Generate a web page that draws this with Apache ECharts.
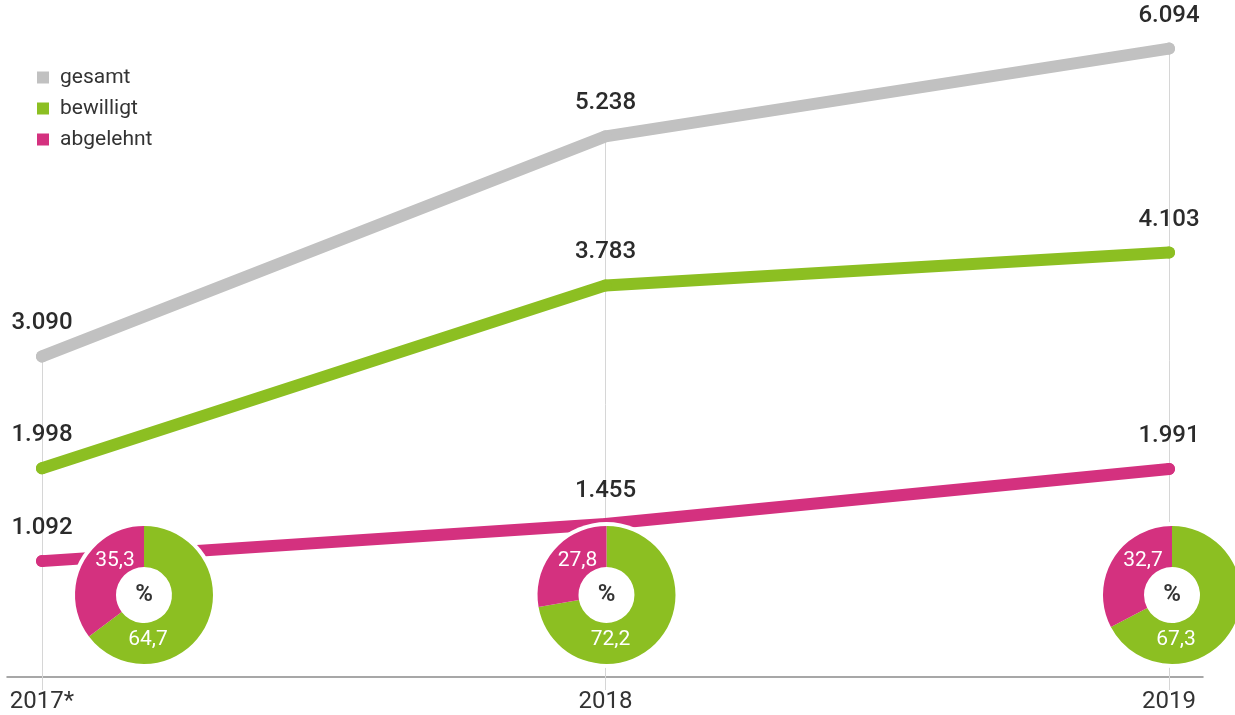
<!DOCTYPE html>
<html>
<head>
<meta charset="utf-8">
<script src="https://cdn.jsdelivr.net/npm/echarts@6/dist/echarts.min.js"></script>
<style>
    html, body { margin: 0; padding: 0; background: #fff; }
    #chart { width: 1235px; height: 715px; }
</style>
</head>
<body>
<div id="chart"></div>
<script>
// Anträge je Jahr
var years = ['2017*', '2018', '2019']
var gesamt = [3090, 5238, 6094]
var bewilligt = [1998, 3783, 4103]
var abgelehnt = [1092, 1455, 1991]
// Anteile in Prozent
var anteilBewilligt = [64.7, 72.2, 67.3]
var anteilAbgelehnt = [35.3, 27.8, 32.7]

var GREY = '#c1c1c1'
var GREEN = '#8cbf22'
var PINK = '#d4317f'
var FONT = 'Roboto, "Noto Sans", sans-serif'

function fmtInt(v) {
    return String(v).replace(/\B(?=(\d{3})+(?!\d))/g, '.')
}
function fmtPct(v) {
    return v.toFixed(1).replace('.', ',')
}

function lineSeries(name, data, color, withDrops) {
    var s = {
        name: name,
        type: 'line',
        data: data,
        symbol: 'circle',
        symbolSize: 12,
        itemStyle: { color: color },
        lineStyle: { color: color, width: 12, cap: 'round', join: 'round' },
        label: {
            show: true,
            position: 'top',
            distance: 15,
            fontSize: 24,
            fontWeight: 500,
            fontFamily: FONT,
            color: '#2b2b2b',
            formatter: function (p) { return fmtInt(p.value) }
        },
        emphasis: { disabled: true },
        z: 3
    }
    if (withDrops) {
        // senkrechte Hilfslinien vom Gesamtwert bis zur Achse
        s.markLine = {
            silent: true,
            symbol: 'none',
            z: 1,
            label: { show: false },
            lineStyle: { color: '#d6d6d6', width: 1, type: 'solid' },
            data: data.map(function (v, i) {
                return [{ coord: [i, v] }, { coord: [i, 0] }]
            })
        }
    }
    return s
}

var chart = echarts.init(document.getElementById('chart'))
var series = [
    lineSeries('gesamt', gesamt, GREY, true),
    lineSeries('bewilligt', bewilligt, GREEN, false),
    lineSeries('abgelehnt', abgelehnt, PINK, false)
]

chart.setOption({
    animation: false,
    legend: {
        orient: 'vertical',
        left: 37,
        top: 67,
        padding: 0,
        icon: 'rect',
        itemWidth: 12,
        itemHeight: 12,
        itemGap: 10,
        selectedMode: false,
        data: ['gesamt', 'bewilligt', 'abgelehnt'],
        textStyle: { fontSize: 21, lineHeight: 21, color: '#333', fontFamily: FONT, padding: [0, 0, 0, 6] }
    },
    grid: [
        { left: 42, right: 66, top: 7, bottom: 42 },
        { left: 7, right: 32, top: 7, bottom: 38 }
    ],
    xAxis: [
        {
            type: 'category',
            data: years,
            boundaryGap: false,
            axisLine: { show: false },
            axisTick: { show: true, length: 17, lineStyle: { color: '#d6d6d6' } },
            axisLabel: { fontSize: 24, color: '#333', fontFamily: FONT, margin: 17 },
            splitLine: { show: false }
        },
        {
            gridIndex: 1,
            type: 'value',
            axisLine: { show: true, onZero: false, lineStyle: { color: '#8a8a8a', width: 1.5 } },
            axisTick: { show: false },
            axisLabel: { show: false },
            splitLine: { show: false }
        }
    ],
    yAxis: [
        { type: 'value', min: 0, max: 6500, show: false },
        { gridIndex: 1, type: 'value', show: false }
    ],
    series: series
})

// Ringdiagramme unter den Jahren
var pieShift = [102, 1, 3]
var pieY = 595
var pies = []
years.forEach(function (y, i) {
    var cx = chart.convertToPixel({ gridIndex: 0 }, [i, 0])[0] + pieShift[i]
    pies.push({
        type: 'pie',
        center: [cx, pieY],
        radius: [0, 73],
        silent: true,
        z: 5,
        data: [{ value: 1, name: '%' }],
        itemStyle: { color: '#fff' },
        label: {
            show: true,
            position: 'center',
            formatter: '%',
            fontSize: 24,
            fontWeight: 600,
            color: '#333',
            fontFamily: FONT
        },
        labelLine: { show: false },
        emphasis: { disabled: true }
    })
    pies.push({
        type: 'pie',
        center: [cx, pieY],
        radius: [28, 69],
        startAngle: 90,
        clockwise: true,
        silent: true,
        z: 6,
        data: [
            { value: anteilBewilligt[i], name: 'bewilligt', itemStyle: { color: GREEN } },
            { value: anteilAbgelehnt[i], name: 'abgelehnt', itemStyle: { color: PINK } }
        ],
        label: {
            show: true,
            position: 'inside',
            fontSize: 21,
            color: '#fff',
            fontFamily: FONT,
            formatter: function (p) { return fmtPct(p.value) }
        },
        labelLine: { show: false },
        labelLayout: function (p) {
            if (p.dataIndex === 0) {
                return { x: cx + 4, y: pieY + 45, align: 'center', verticalAlign: 'middle' }
            }
            return { x: cx - 29, y: pieY - 34, align: 'center', verticalAlign: 'middle' }
        },
        emphasis: { disabled: true }
    })
})

chart.setOption({ series: series.concat(pies) })
</script>
</body>
</html>
